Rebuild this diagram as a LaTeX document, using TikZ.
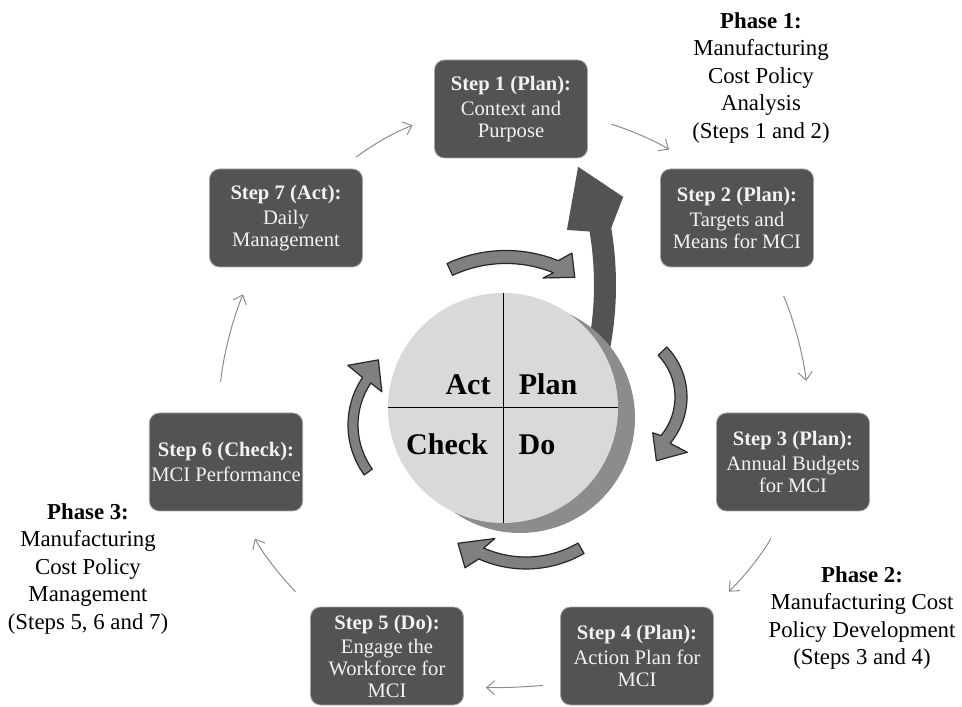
\documentclass[tikz,border=0pt]{standalone}
\usepackage{fontspec}
\setmainfont{Liberation Serif}
\usetikzlibrary{arrows.meta}
\definecolor{boxgray}{RGB}{83,83,83}
\definecolor{boxtext}{RGB}{242,242,242}
\definecolor{discgray}{RGB}{217,217,217}
\definecolor{shadowgray}{RGB}{140,140,140}
\definecolor{turngray}{RGB}{128,128,128}
\definecolor{linkgray}{RGB}{140,140,140}
\tikzset{
  stepbox/.style={draw=black!35, line width=0.4pt, fill=boxgray, rounded corners=5pt,
    minimum width=76.5pt, minimum height=49pt, inner sep=1pt, align=center,
    text=boxtext, font=\fontsize{10.3}{11}\selectfont},
  phase/.style={align=center, font=\fontsize{11.4}{13.75}\selectfont},
  link/.style={draw=linkgray, line width=0.5pt, -{Straight Barb[length=4pt,width=7pt]}},
  turn/.style={fill=turngray, draw=black!85, line width=0.6pt, line join=round},
  quad/.style={anchor=base, font=\fontsize{15}{15}\selectfont\bfseries}
}
\begin{document}
\begin{tikzpicture}[x=0.5pt, y=0.5pt]
    \useasboundingbox (0,0) rectangle (962,706);
    \fill[boxgray, shift={(270,421)}] (-12:346) arc[start angle=-12, end angle=9.5, radius=346]
        -- (14:364) -- (21:330) -- (10.5:302) -- (9.5:324) arc[start angle=9.5, end angle=-12, radius=324] -- cycle;
    \fill[shadowgray] (520,288) circle (115);
    \node[circle, fill=discgray, minimum size=115pt, inner sep=0pt] (pdca) at (503,298) {};
    \draw[line width=0.5pt] (pdca.west) -- (pdca.east);
    \draw[line width=0.5pt] (pdca.north) -- (pdca.south);
    \node[quad] (act) at (468,311) {Act};
    \node[quad] (plan) at (548,311) {Plan};
    \node[quad] (check) at (447,251) {Check};
    \node[quad] (do) at (537,251) {Do};
    \draw[turn, shift={(506,316)}] (115:139.5) arc[start angle=115, end angle=68, radius=139.5]
        -- (64.3:152) -- (58.6:132) -- (71.7:118) -- (68:126.5) arc[start angle=68, end angle=115, radius=126.5] -- cycle;
    \draw[turn, shift={(615,309)}] (44:72) arc[start angle=44, end angle=-40, radius=72]
        -- (-37.4:91) -- (-57:76) -- (-43.5:52) -- (-40:60) arc[start angle=-40, end angle=44, radius=60] -- cycle;
    \draw[turn, shift={(526,253)}] (300:116) arc[start angle=300, end angle=246, radius=116]
        -- (242:130) -- (233:113) -- (250:91) -- (246:104) arc[start angle=246, end angle=300, radius=104] -- cycle;
    \draw[turn, shift={(433,281)}] (216:85) arc[start angle=216, end angle=146, radius=85]
        -- (145:104) -- (130:85) -- (147:61) -- (146:75) arc[start angle=146, end angle=216, radius=75] -- cycle;
    \node[stepbox] (s1) at (511,597) {\textbf{Step 1 (Plan):}\\[1.5pt]Context and\\Purpose};
    \node[stepbox] (s2) at (737,488) {\textbf{Step 2 (Plan):}\\[1.5pt]Targets and\\Means for MCI};
    \node[stepbox] (s3) at (793,244) {\textbf{Step 3 (Plan):}\\[1.5pt]Annual Budgets\\for MCI};
    \node[stepbox] (s4) at (637,50) {\textbf{Step 4 (Plan):}\\[1.5pt]Action Plan for\\MCI};
    \node[stepbox] (s5) at (387,50) {\textbf{Step 5 (Do):}\\[1pt]Engage the\\Workforce for\\MCI};
    \node[stepbox] (s6) at (226,244) {\textbf{Step 6 (Check):}\\[1.5pt]MCI Performance};
    \node[stepbox] (s7) at (286,488) {\textbf{Step 7 (Act):}\\[1.5pt]Daily\\Management};
    \node[phase] (phase1) at (761,628) {\textbf{Phase 1:}\\Manufacturing\\Cost Policy\\Analysis\\(Steps 1 and 2)};
    \node[phase] (phase2) at (862,88) {\textbf{Phase 2:}\\Manufacturing Cost\\Policy Development\\(Steps 3 and 4)};
    \node[phase] (phase3) at (88,137) {\textbf{Phase 3:}\\Manufacturing\\Cost Policy\\Management\\(Steps 5, 6 and 7)};
    \draw[link, shorten <=12pt, shorten >=17.5pt] (s1.-6) to[bend left=8] (s2.128);
    \draw[link, shorten <=15.5pt, shorten >=16pt] (s2.-55) to[bend left=8] (s3.71);
    \draw[link, shorten <=15.5pt, shorten >=10.5pt] (s3.-98) to[bend left=8] (s4.north east);
    \draw[link, shorten <=8.5pt, shorten >=11pt] (s4.-160) to[bend left=3] (s5.-22);
    \draw[link, shorten <=10.5pt, shorten >=15.5pt] (s5.north west) to[bend left=8] (s6.-74);
    \draw[link, shorten <=15.5pt, shorten >=14.5pt] (s6.100) to[bend left=8] (s7.-123);
    \draw[link, shorten <=9.5pt, shorten >=11.5pt] (s7.42) to[bend left=8] (s1.186);
\end{tikzpicture}
\end{document}
